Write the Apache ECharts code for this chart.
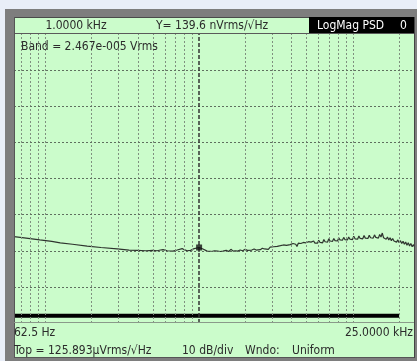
<!DOCTYPE html>
<html>
<head>
<meta charset="utf-8">
<script src="https://cdn.jsdelivr.net/npm/echarts@6/dist/echarts.min.js"></script>
<style>
  html, body { margin: 0; padding: 0; background: #e9eef8; }
  #chart { width: 417px; height: 361px; }
</style>
</head>
<body>
<div id="chart"></div>
<script>
// Frequency span of the measurement (Hz)
const startHz = 62.5;
const stopHz = 25000;

// Display reference: top of screen and scale
const topDbV = -78;          // 125.893 µVrms/√Hz
const dbPerDiv = 10;
const divisions = 8;

// Vertical grid frequencies (log decades)
const gridHz = [70, 80, 90, 100, 200, 300, 400, 500, 600, 700, 800, 900,
  2000, 3000, 4000, 5000, 6000, 7000, 8000, 9000, 10000, 20000];

// Noise spectral density trace: frequency (Hz) and level (dBV/√Hz)
const traceHz = [62.5, 75, 92, 110, 125, 150, 187, 230, 293, 350, 395, 450, 500, 533, 560, 583,
  620, 677, 720, 776, 800, 836, 880, 930, 1000, 1060, 1128, 1200, 1260, 1320, 1371, 1430,
  1500, 1560, 1610, 1666, 1720, 1780, 1850, 1920, 1994, 2060, 2120, 2200, 2280, 2350, 2420,
  2499, 2580, 2660, 2740, 2820, 2900, 2980, 3060, 3140, 3224, 3300, 3380, 3460, 3540, 3620,
  3700, 3800, 3915,
  4000, 4080, 4160, 4250, 4330, 4420, 4500, 4590, 4680, 4770, 4860, 4950, 5050, 5150, 5250,
  5350, 5450, 5560, 5670, 5780, 5890, 6000, 6120, 6240, 6360, 6480, 6600, 6720, 6850, 6980,
  7110, 7240, 7380, 7520, 7660, 7800, 7950, 8100, 8250, 8400, 8560, 8720, 8880, 9050, 9220,
  9400, 9580, 9760, 9950, 10140, 10340, 10540, 10740, 10950, 11160, 11380, 11600, 11830,
  12060, 12300, 12540, 12790, 13040, 13300, 13560, 13830, 14100, 14380, 14660, 14950, 15250,
  15550, 15850, 16160, 16480, 16800, 17130, 17470, 17810, 18160, 18520, 18880, 19250, 19630,
  20020, 20410, 20810, 21220, 21640, 22070, 22500, 22940, 23390, 23850, 24320, 24800, 25000];
const traceDbV = [-134.1, -134.5, -135.0, -135.4, -135.8, -136.2, -136.7, -137.1, -137.5, -137.8,
  -137.9, -138.0, -137.9, -138.0, -137.8, -137.7, -138.0, -138.1, -137.8, -137.4, -137.7, -138.0,
  -137.9, -137.4, -137.1, -137.5, -138.1, -138.2, -138.0, -138.1, -138.2, -138.1, -137.9, -138.2,
  -137.6, -138.1, -138.0, -138.1, -137.8, -138.0, -137.6, -137.9, -137.6, -137.8, -137.5, -137.8,
  -137.4, -137.7, -137.3, -137.5, -137.1, -137.6, -137.0, -137.4, -136.9, -137.3, -136.8, -137.1,
  -136.6, -137.0, -136.4, -136.9, -136.5, -136.8, -136.3,
  -136.7, -136.0, -136.5, -136.2, -136.8, -135.9, -136.4, -136.0, -136.5, -135.7, -136.2, -135.8,
  -136.3, -135.5, -136.0, -135.6, -136.1, -135.3, -135.9, -135.4, -135.9, -135.1, -135.7, -135.2,
  -135.8, -134.9, -135.5, -135.0, -135.6, -134.7, -135.3, -134.8, -135.4, -134.6, -135.2, -134.7,
  -135.3, -134.4, -135.0, -134.6, -135.1, -134.3, -134.9, -134.4, -135.0, -134.2, -134.8, -134.3,
  -134.9, -134.0, -134.7, -134.2, -134.8, -133.9, -134.6, -134.1, -134.7, -133.8, -134.5, -134.0,
  -134.6, -133.7, -134.4, -133.9, -134.5, -133.6, -134.3, -133.8, -134.5, -133.5, -134.2, -133.1,
  -134.4, -133.9, -134.8, -134.2, -135.0, -134.4, -135.2, -134.6, -135.3, -134.8, -135.6, -135.0,
  -135.8, -135.2, -136.0, -135.4, -136.2, -135.6, -136.5, -135.8, -136.7, -136.0, -136.9, -136.3,
  -136.8];

// Marker readout
const markerHz = 1000;
const markerNv = 139.6;      // nVrms/√Hz
const markerDbV = 20 * Math.log10(markerNv * 1e-9);

// Band power marker range
const bandStartHz = 62.5;
const bandStopHz = 20000;
const bandText = 'Band = 2.467e-005 Vrms';

const bottomDbV = topDbV - dbPerDiv * divisions;
const hGridDb = [];
for (let k = 1; k < divisions; k++) hGridDb.push(topDbV - k * dbPerDiv);

const FONT = '"DejaVu Sans Condensed", "DejaVu Sans", sans-serif';
const INK = '#2b2b2b';

const chart = echarts.init(document.getElementById('chart'), null, { renderer: 'canvas' });

function txt(x, y, s, opts) {
  return {
    type: 'text', x: x, y: y, z: 100,
    style: Object.assign({ text: s, fill: INK, font: '12px ' + FONT, textVerticalAlign: 'middle' }, opts || {})
  };
}

chart.setOption({
  animation: false,
  backgroundColor: '#e9eef8',
  grid: { left: 14, right: 3, top: 34, bottom: 38 },
  xAxis: {
    type: 'log', logBase: 10, min: startHz, max: stopHz,
    axisLine: { show: false }, axisTick: { show: false }, axisLabel: { show: false },
    splitLine: { show: false }
  },
  yAxis: {
    type: 'value', min: bottomDbV, max: topDbV,
    axisLine: { show: false }, axisTick: { show: false }, axisLabel: { show: false },
    splitLine: { show: false }
  },
  graphic: [
    { type: 'rect', z: -10, shape: { x: 5, y: 9, width: 412, height: 352 }, style: { fill: '#7e7e7e' } },
    { type: 'rect', z: -9, shape: { x: 14, y: 17, width: 400, height: 341 }, style: { fill: '#cbfccb' } },
    { type: 'line', z: 50, shape: { x1: 14, y1: 17.5, x2: 414, y2: 17.5 }, style: { stroke: '#4a4a4a', lineWidth: 1 } },
    { type: 'line', z: 50, shape: { x1: 14, y1: 33.5, x2: 414, y2: 33.5 }, style: { stroke: '#5a5a5a', lineWidth: 1 } },
    { type: 'line', z: 50, shape: { x1: 14.5, y1: 17, x2: 14.5, y2: 358 }, style: { stroke: '#555', lineWidth: 1 } },
    { type: 'line', z: 50, shape: { x1: 14, y1: 322.5, x2: 414, y2: 322.5 }, style: { stroke: '#8a9a8a', lineWidth: 1 } },
    { type: 'line', z: 50, shape: { x1: 414.5, y1: 17, x2: 414.5, y2: 358 }, style: { stroke: '#444', lineWidth: 1 } },
    { type: 'line', z: 50, shape: { x1: 14, y1: 357.5, x2: 414, y2: 357.5 }, style: { stroke: '#555', lineWidth: 1 } },
    { type: 'rect', z: 60, shape: { x: 309, y: 17, width: 105, height: 16 }, style: { fill: '#000' } },
    txt(76, 25.5, '1.0000 kHz', { textAlign: 'center' }),
    txt(156, 25.5, 'Y= ' + markerNv.toFixed(1) + ' nVrms/√Hz'),
    txt(317, 25.5, 'LogMag PSD', { fill: '#ffffff' }),
    txt(400, 25.5, '0', { fill: '#ffffff' }),
    txt(21, 47, bandText),
    txt(14, 333, '62.5 Hz'),
    txt(413, 333, '25.0000 kHz', { textAlign: 'right' }),
    txt(14, 351, 'Top = 125.893µVrms/√Hz'),
    txt(182, 351, '10 dB/div'),
    txt(245, 351, 'Wndo:'),
    txt(292, 351, 'Uniform')
  ],
  series: [
    {
      // grid lines drawn through the axis scales
      type: 'line', data: [], silent: true,
      markLine: {
        silent: true, symbol: 'none', label: { show: false },
        data: gridHz.map(f => ({ xAxis: f, lineStyle: { color: '#7f907f', type: [2, 2], width: 1 } }))
          .concat(hGridDb.map(d => ({ yAxis: d, lineStyle: { color: '#5f705f', type: [2, 2], width: 1 } })))
      }
    },
    {
      name: 'band', type: 'line', silent: true, symbol: 'none',
      data: [[bandStartHz, bottomDbV + 2], [bandStopHz, bottomDbV + 2]],
      lineStyle: { color: '#000', width: 4 }, z: 3
    },
    {
      name: 'PSD', type: 'line', symbol: 'none', silent: true,
      data: traceHz.map((f, i) => [f, traceDbV[i]]),
      lineStyle: { color: '#2e342e', width: 1.2 }, z: 4
    },
    {
      name: 'marker', type: 'scatter', silent: true,
      data: [[markerHz, markerDbV]],
      symbol: 'rect', symbolSize: 6,
      itemStyle: { color: '#111' }, z: 6,
      markLine: {
        silent: true, symbol: 'none', label: { show: false },
        data: [{ xAxis: markerHz }],
        lineStyle: { color: '#333', type: [4, 2], width: 1.5 }
      }
    }
  ]
});
</script>
</body>
</html>
